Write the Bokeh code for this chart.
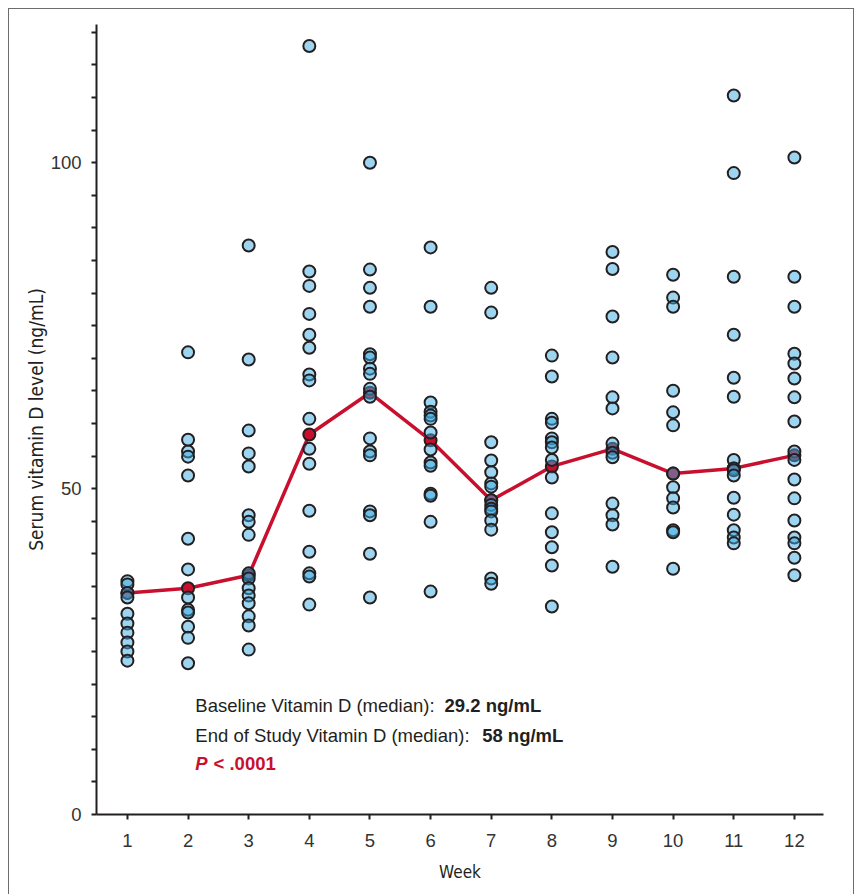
from bokeh.plotting import figure
from bokeh.models import FixedTicker, Range1d
from bokeh.core.properties import value
from bokeh.embed import file_html
from bokeh.resources import INLINE

weeks = list(range(1, 13))
week_labels = [str(w) for w in weeks]

wk1 = [35.8, 35.3, 34.0, 33.3, 30.8, 29.3, 27.9, 26.4, 25.0, 23.6]
wk2 = [70.9, 57.5, 55.7, 54.9, 52.0, 42.3, 37.6, 33.3, 31.4, 31.0, 28.8, 27.1, 23.2]
wk3 = [87.3, 69.8, 58.9, 55.4, 53.4, 45.9, 44.9, 42.9, 37.0, 36.2, 34.7, 33.6, 32.4, 30.4, 29.0, 25.3]
wk4 = [117.9, 83.3, 81.1, 76.8, 73.6, 71.6, 67.5, 66.6, 60.7, 56.1, 53.8, 46.6, 40.3, 37.0, 36.5, 32.2]
wk5 = [100.0, 83.6, 80.8, 77.9, 70.6, 70.1, 68.4, 67.6, 65.3, 64.1, 57.7, 55.7, 55.1, 46.5, 45.9, 40.0, 33.3]
wk6 = [87.0, 77.9, 63.2, 61.8, 61.2, 60.7, 58.6, 56.0, 54.0, 53.5, 49.2, 48.9, 44.9, 34.2]
wk7 = [80.8, 77.0, 57.1, 54.3, 52.5, 50.8, 50.3, 48.2, 47.5, 46.9, 46.5, 45.1, 43.7, 36.2, 35.4]
wk8 = [70.4, 67.2, 60.7, 60.1, 57.7, 57.1, 56.3, 54.4, 51.7, 46.2, 43.3, 41.0, 38.2, 31.9]
wk9 = [86.3, 83.7, 76.4, 70.1, 64.0, 62.3, 56.9, 55.5, 54.8, 47.7, 45.9, 44.5, 38.0]
wk10 = [82.8, 79.3, 77.9, 65.0, 61.7, 59.7, 52.3, 50.2, 48.5, 47.1, 43.6, 43.3, 37.7]
wk11 = [110.3, 98.4, 82.5, 73.6, 67.0, 64.1, 54.4, 53.1, 52.8, 52.0, 48.6, 46.0, 43.6, 42.5, 41.6]
wk12 = [100.8, 82.5, 77.9, 70.7, 69.2, 66.9, 64.0, 60.3, 55.7, 54.4, 51.4, 48.5, 45.1, 42.5, 41.6, 39.4, 36.7]

medians = [34.0, 34.7, 36.7, 58.3, 64.7, 57.4, 48.2, 53.4, 56.1, 52.3, 53.1, 55.1]

y_ticks = list(range(0, 121, 5))
y_labelled = [0, 50, 100]

ann_line1 = "Baseline Vitamin D (median): "
ann_line1_bold = "29.2 ng/mL"
ann_line2 = "End of Study Vitamin D (median): "
ann_line2_bold = "58 ng/mL"
ann_p = "P"
ann_p_rest = "< .0001"

groups = [wk1, wk2, wk3, wk4, wk5, wk6, wk7, wk8, wk9, wk10, wk11, wk12]
xs, ys = [], []
for w, vals in zip(weeks, groups):
    for v in vals:
        xs.append(w)
        ys.append(v)

RED = "#c8102e"
INK = "#231f20"
FONT = "Liberation Sans"
NARROW = "DejaVu Sans Condensed"

p = figure(width=846, height=886,
           x_range=Range1d(0.49, 12.48), y_range=Range1d(0, 121.2),
           output_backend="svg", toolbar_location=None,
           min_border_left=87, min_border_right=32,
           min_border_top=15, min_border_bottom=81)
p.styles = {"margin-left": "8px", "margin-top": "8px",
            "border-top": "1.5px solid #6d6d6d",
            "border-left": "1.5px solid #6d6d6d",
            "border-right": "1.5px solid #6d6d6d",
            "box-sizing": "border-box"}
p.grid.visible = False
p.outline_line_color = None
p.background_fill_color = "white"

p.xaxis.ticker = FixedTicker(ticks=weeks)
p.xaxis.major_label_overrides = {w: l for w, l in zip(weeks, week_labels)}
p.yaxis.ticker = FixedTicker(ticks=y_ticks)
p.yaxis.major_label_overrides = {t: (str(t) if t in y_labelled else "") for t in y_ticks}

for ax in (p.xaxis[0], p.yaxis[0]):
    ax.axis_line_color = INK
    ax.axis_line_width = 2
    ax.major_tick_line_color = INK
    ax.major_tick_line_width = 2
    ax.major_tick_out = 5
    ax.major_tick_in = 0
    ax.minor_tick_out = 0
    ax.minor_tick_in = 0
    ax.major_label_text_font = FONT
    ax.major_label_text_font_size = "18.5px"
    ax.major_label_text_color = "#333333"
    ax.axis_label_text_font = NARROW
    ax.axis_label_text_font_style = "normal"
    ax.axis_label_text_color = INK

p.xaxis.axis_label = "Week"
p.xaxis.axis_label_text_font_size = "17px"
p.yaxis.axis_label = "Serum vitamin D level (ng/mL)"
p.yaxis.axis_label_text_font_size = "19px"
p.xaxis.major_label_standoff = 14
p.xaxis.axis_label_standoff = 12
p.yaxis.major_label_standoff = 10
p.yaxis.axis_label_standoff = 1

# median line and markers
p.line(weeks, medians, line_color=RED, line_width=3.5)
p.scatter(weeks, medians, size=12, fill_color=RED, line_color=INK, line_width=2)

# individual points
p.scatter(xs, ys, size=12, fill_color="#3ca9e0", fill_alpha=0.5,
          line_color=INK, line_width=2)

# annotation
FS = "18.5px"
p.text([2.12], [16.7], text=[ann_line1], text_font=value(FONT), text_font_size=FS,
       text_color=INK, text_baseline="middle")
p.text([6.23], [16.7], text=[ann_line1_bold], text_font=value(FONT), text_font_size=FS,
       text_font_style="bold", text_color=INK, text_baseline="middle")
p.text([2.12], [12.1], text=[ann_line2], text_font=value(FONT), text_font_size=FS,
       text_color=INK, text_baseline="middle")
p.text([6.85], [12.1], text=[ann_line2_bold], text_font=value(FONT), text_font_size=FS,
       text_font_style="bold", text_color=INK, text_baseline="middle")
p.text([2.12], [7.8], text=[ann_p], text_font=value(FONT), text_font_size=FS,
       text_font_style="bold italic", text_color=RED, text_baseline="middle")
p.text([2.42], [7.8], text=[ann_p_rest], text_font=value(FONT), text_font_size=FS,
       text_font_style="bold", text_color=RED, text_baseline="middle")

open("out.html", "w").write(file_html(p, INLINE))
